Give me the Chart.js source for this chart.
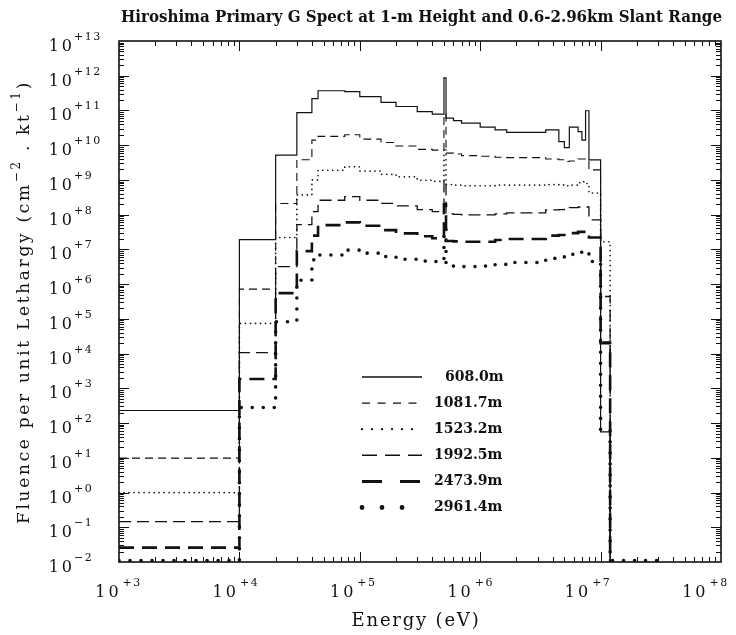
<!DOCTYPE html>
<html><head><meta charset="utf-8">
<script src="https://cdn.jsdelivr.net/npm/chart.js@4.4.1/dist/chart.umd.min.js"></script>
<style>html,body{margin:0;padding:0;background:#fff;}#wrap{width:736px;height:635px;}</style>
</head><body><div id="wrap"><canvas id="c" width="736" height="635"></canvas></div>
<script>
// ---- data ----
const energyEdges = [1e3,1e4,2e4,3e4,4e4,4.5e4,7.5e4,1e5,1.5e5,2e5,3e5,4e5,5e5,5.2e5,6e5,7e5,1e6,1.33e6,1.66e6,3.5e6,4.5e6,5e6,5.5e6,6.5e6,7e6,7.5e6,8e6,1e7,1.2e7];
const tailEdge = 3.2e7;
const floorValue = 1e-2;
const seriesLabels = ['608.0m','1081.7m','1523.2m','1992.5m','2473.9m','2961.4m'];
const fluence608  = [2.3e2,1.9e7,5.2e9,8.7e10,2.2e11,3.7e11,3.5e11,2.5e11,1.7e11,1.3e11,9.3e10,7.8e10,8.7e11,6.0e10,5.1e10,4.3e10,3.3e10,2.75e10,2.35e10,2.75e10,1.26e10,8.5e9,3.3e10,2.45e10,1.4e10,9.8e10,3.8e9,5.6e1];
const fluence1082 = [9.8e0,7.2e5,2.1e8,3.8e9,1.4e10,1.8e10,2.0e10,1.5e10,1.2e10,9.5e9,7.6e9,7.2e9,8.0e10,5.9e9,5.6e9,5.0e9,4.8e9,4.5e9,4.4e9,4.0e9,3.8e9,3.4e9,3.5e9,4.0e9,4.0e9,3.5e9,1.95e9,2.2e4];
const fluence1523 = [1.0e0,7.4e4,2.2e7,3.7e8,1.0e9,1.9e9,2.4e9,1.8e9,1.45e9,1.23e9,9.8e8,9.1e8,8.0e9,7.4e8,7.1e8,6.8e8,6.8e8,7.1e8,7.1e8,7.4e8,7.2e8,6.8e8,7.1e8,8.3e8,8.9e8,7.9e8,4.2e8,1.66e7];
const fluence1993 = [1.45e-1,1.07e4,3.2e6,5.2e7,1.23e8,2.6e8,3.3e8,2.6e8,2.1e8,1.8e8,1.4e8,1.23e8,1.0e9,1.05e8,1.02e8,9.8e7,9.8e7,1.05e8,1.12e8,1.38e8,1.4e8,1.55e8,1.6e8,1.66e8,1.66e8,1.66e8,7.1e7,4.4e5];
const fluence2474 = [2.6e-2,1.86e3,5.5e5,8.9e6,2.5e7,5.0e7,6.0e7,4.8e7,3.6e7,2.9e7,2.4e7,2.1e7,2.0e8,1.74e7,1.7e7,1.66e7,1.66e7,1.86e7,2.0e7,2.5e7,2.6e7,2.9e7,2.95e7,3.2e7,3.2e7,3.3e7,2.2e7,2.0e4];
const fluence2961 = [1.1e-2,2.8e2,8.3e4,1.3e6,5.0e6,6.9e6,9.5e6,7.8e6,6.2e6,5.2e6,4.6e6,4.5e6,4.0e7,3.3e6,3.3e6,3.2e6,3.3e6,3.7e6,4.2e6,5.5e6,5.9e6,6.9e6,7.2e6,8.3e6,8.7e6,8.9e6,4.5e6,6.3e1];
const tail2961 = 1.1e-2;
const xTickExponents = [3,4,5,6,7,8];
const yTickExponents = [-2,-1,0,1,2,3,4,5,6,7,8,9,10,11,12,13];
const titleText = 'Hiroshima Primary G Spect at 1-m Height and 0.6-2.96km Slant Range';
const xTitleText = 'Energy (eV)';

// ---- styles ----
const lineStyles = [
  {w:1.2, dash:[], cap:'butt', ldash:[], lw:1.3},
  {w:1.1, dash:[8,5], cap:'butt', ldash:[8,7.5], lw:1.3},
  {w:1.7, dash:[0.01,5], cap:'round', ldash:[0.01,10], lw:2.2},
  {w:1.3, dash:[12,6], cap:'butt', ldash:[15,8], lw:1.5},
  {w:2.6, dash:[15,8], cap:'butt', ldash:[20,18], lw:3},
  {w:3.6, dash:[0.01,11], cap:'round', ldash:[0.01,20], lw:4.8}
];
const allSeries = [fluence608,fluence1082,fluence1523,fluence1993,fluence2474,fluence2961];
const tails = [null,null,null,null,null,tail2961];

function stepPoints(values, tail){
  const pts = values.map((v,i)=>({x:energyEdges[i], y:v}));
  if (tail !== null){ pts.push({x:energyEdges[values.length], y:tail}); pts.push({x:tailEdge, y:tail}); }
  else pts.push({x:energyEdges[values.length], y:floorValue});
  return pts;
}

const datasets = allSeries.map((vals,i)=>({
  label: seriesLabels[i],
  data: stepPoints(vals, tails[i]),
  stepped: true,
  borderColor: '#111',
  borderWidth: lineStyles[i].w,
  borderDash: lineStyles[i].dash,
  borderCapStyle: lineStyles[i].cap,
  pointRadius: 0,
  fill: false,
  tension: 0,
  clip: {left:0, right:0, top:0, bottom:4}
}));

const SERIF = '"DejaVu Serif", "Liberation Serif", serif';

function drawSpaced(ctx, text, x, y, spacing){
  ctx.letterSpacing = spacing + 'px';
  ctx.fillText(text, x, y);
  ctx.letterSpacing = '0px';
}
function widthSpaced(ctx, text, spacing){
  ctx.letterSpacing = spacing + 'px';
  const w = ctx.measureText(text).width;
  ctx.letterSpacing = '0px';
  return w;
}

const decor = {
  id: 'decor',
  afterDraw(chart){
    const ctx = chart.ctx, a = chart.chartArea, xs = chart.scales.x, ys = chart.scales.y;
    ctx.save();
    ctx.strokeStyle = '#111'; ctx.fillStyle = '#111';
    // frame
    ctx.lineWidth = 1.6;
    ctx.strokeRect(a.left, a.top, a.right - a.left, a.bottom - a.top);
    // ticks
    ctx.lineWidth = 1;
    ctx.beginPath();
    for (let k = 0; k < xTickExponents.length - 1; k++){
      for (let m = 1; m <= 9; m++){
        if (m === 1 && k === 0) continue;
        const px = Math.round(xs.getPixelForValue(m * Math.pow(10, xTickExponents[k]))) + 0.5;
        const L = m === 1 ? 10 : 5;
        ctx.moveTo(px, a.bottom); ctx.lineTo(px, a.bottom - L);
        ctx.moveTo(px, a.top); ctx.lineTo(px, a.top + L);
      }
    }
    for (let k = 0; k < yTickExponents.length - 1; k++){
      for (let m = 1; m <= 9; m++){
        if (m === 1 && k === 0) continue;
        const py = Math.round(ys.getPixelForValue(m * Math.pow(10, yTickExponents[k]))) + 0.5;
        const L = m === 1 ? 10 : 5;
        ctx.moveTo(a.left, py); ctx.lineTo(a.left + L, py);
        ctx.moveTo(a.right, py); ctx.lineTo(a.right - L, py);
      }
    }
    ctx.stroke();

    // y tick labels
    ctx.textBaseline = 'alphabetic';
    yTickExponents.forEach(e => {
      const py = ys.getPixelForValue(Math.pow(10, e));
      ctx.font = '16px ' + SERIF; ctx.textAlign = 'right';
      drawSpaced(ctx, '10', 72 + 3, py + 10, 3);
      ctx.font = '11px ' + SERIF; ctx.textAlign = 'left';
      const sup = (e < 0 ? '\u2212' : '+') + Math.abs(e);
      drawSpaced(ctx, sup, 74, py - 1, 1.5);
    });
    // x tick labels (slightly left of tick, as in the original)
    xTickExponents.forEach(e => {
      const px = xs.getPixelForValue(Math.pow(10, e));
      ctx.font = '16px ' + SERIF; ctx.textAlign = 'left';
      const w1 = widthSpaced(ctx, '10', 3);
      ctx.font = '11px ' + SERIF;
      const sup = '+' + e;
      const w2 = widthSpaced(ctx, sup, 1.5);
      const center = px - 1 - (px - a.left) * 0.025;
      const x0 = center - (w1 + w2) / 2;
      ctx.font = '16px ' + SERIF;
      drawSpaced(ctx, '10', x0, 597, 3);
      ctx.font = '11px ' + SERIF;
      drawSpaced(ctx, sup, x0 + w1 + 1, 586, 1.5);
    });

    // x title
    ctx.font = '18px ' + SERIF; ctx.textAlign = 'center';
    drawSpaced(ctx, xTitleText, 416, 626, 1.8);

    // title (bold, condensed to fit frame width)
    ctx.font = 'bold 17px ' + SERIF; ctx.textAlign = 'left';
    const tw = ctx.measureText(titleText).width;
    const target = 601;
    ctx.save();
    ctx.translate(121, 22);
    ctx.scale(target / tw, 1);
    ctx.fillText(titleText, 0, 0);
    ctx.restore();

    // y title (rotated), spread to the length of the original
    const parts = [
      {t:'Fluence per unit Lethargy (cm', sup:false},
      {t:'\u22122', sup:true},
      {t:' . kt', sup:false},
      {t:'\u22121', sup:true},
      {t:')', sup:false}
    ];
    let natural = 0, nch = 0;
    parts.forEach(p => {
      ctx.font = (p.sup ? '12px ' : '17px ') + SERIF;
      natural += ctx.measureText(p.t).width; nch += p.t.length;
    });
    const spacing = (444 - natural) / nch;
    let total = 0;
    parts.forEach(p => {
      ctx.font = (p.sup ? '12px ' : '17px ') + SERIF;
      p.w = widthSpaced(ctx, p.t, spacing);
      total += p.w;
    });
    ctx.save();
    ctx.translate(29, 302);
    ctx.rotate(-Math.PI / 2);
    ctx.textAlign = 'left';
    let cx = -total / 2;
    parts.forEach(p => {
      ctx.font = (p.sup ? '12px ' : '17px ') + SERIF;
      drawSpaced(ctx, p.t, cx, p.sup ? -9 : 0, spacing);
      cx += p.w;
    });
    ctx.restore();

    // legend
    seriesLabels.forEach((lab, i) => {
      const y = 377 + 26.1 * i;
      const st = lineStyles[i];
      ctx.save();
      ctx.lineWidth = st.lw;
      ctx.setLineDash(st.ldash);
      ctx.lineCap = st.cap;
      ctx.beginPath();
      ctx.moveTo(362, y); ctx.lineTo(422, y);
      ctx.stroke();
      ctx.restore();
      ctx.font = 'bold 14px ' + SERIF; ctx.textAlign = 'left'; ctx.textBaseline = 'middle';
      const pad = lab.length < 7 ? 11 : 0;
      ctx.fillText(lab, 434 + pad, y);
      ctx.textBaseline = 'alphabetic';
    });
    ctx.restore();
  }
};

new Chart(document.getElementById('c'), {
  type: 'line',
  data: { datasets },
  options: {
    responsive: false,
    animation: false,
    layout: { padding: { left: 119, right: 15, top: 41, bottom: 73 } },
    plugins: { legend: { display: false }, tooltip: { enabled: false }, title: { display: false } },
    scales: {
      x: { type: 'logarithmic', min: 1e3, max: 1e8, display: false },
      y: { type: 'logarithmic', min: 1e-2, max: 1e13, display: false }
    }
  },
  plugins: [decor]
});
</script></body></html>
